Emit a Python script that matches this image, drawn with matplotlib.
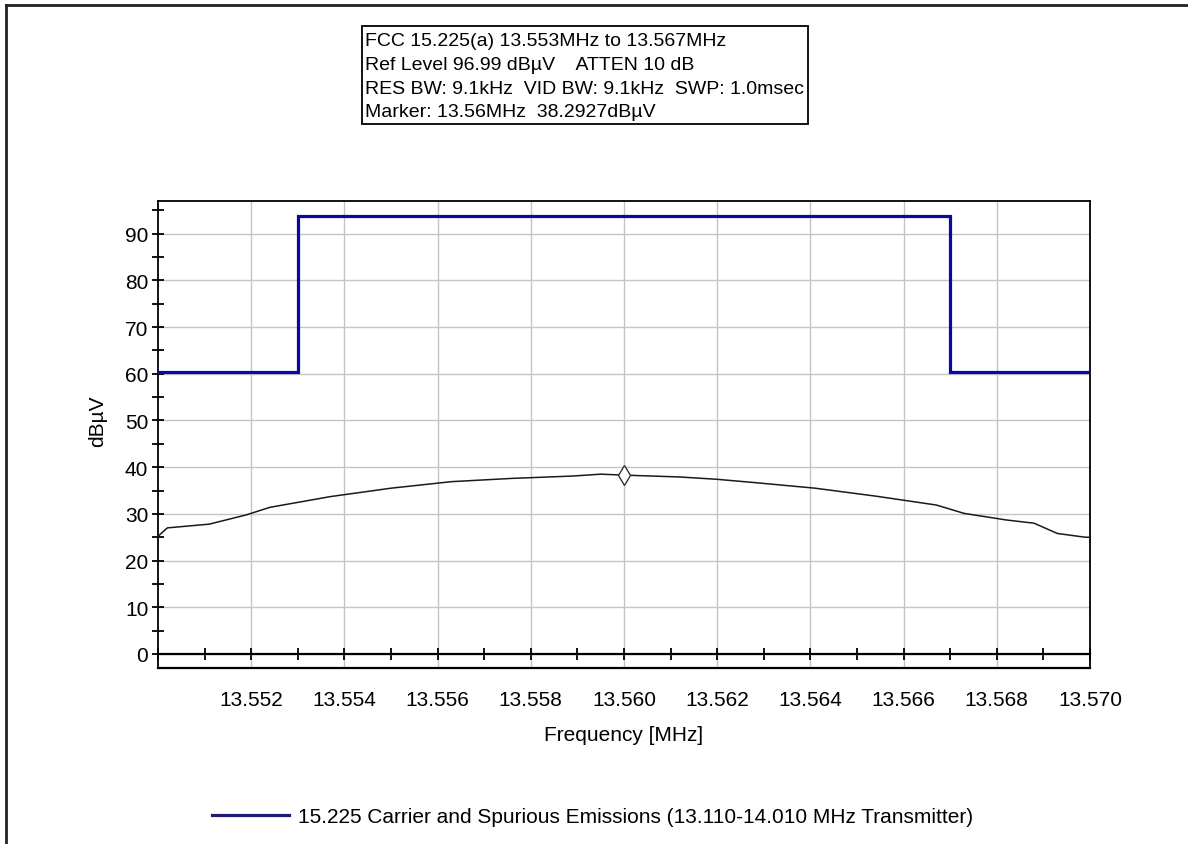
import matplotlib
matplotlib.use("Agg")
import matplotlib.pyplot as plt
from matplotlib.lines import Line2D
from matplotlib.patches import Rectangle
from matplotlib.ticker import MultipleLocator

plt.rcParams['font.family'] = ['Liberation Sans', 'DejaVu Sans']

# ---- data ----
limit_freq = [13.550, 13.553, 13.553, 13.567, 13.567, 13.570]
limit_level = [60.3, 60.3, 93.7, 93.7, 60.3, 60.3]

em_freq = [13.5500, 13.5502, 13.5511, 13.5519, 13.5524, 13.5537, 13.5550, 13.5563,
           13.5576, 13.5589, 13.5595, 13.5600, 13.5612, 13.5620, 13.5628, 13.5641,
           13.5654, 13.5667, 13.5673, 13.5682, 13.5688, 13.5693, 13.5699, 13.5700]
em_level = [25.2, 27.0, 27.8, 29.8, 31.4, 33.7, 35.5, 36.9,
            37.6, 38.1, 38.5, 38.3, 37.9, 37.4, 36.7, 35.5,
            33.8, 31.9, 30.1, 28.7, 28.0, 25.8, 25.0, 25.0]

marker_freq = 13.560
marker_level = 38.2927

info_lines = [
    "FCC 15.225(a) 13.553MHz to 13.567MHz",
    "Ref Level 96.99 dB\u00b5V    ATTEN 10 dB",
    "RES BW: 9.1kHz  VID BW: 9.1kHz  SWP: 1.0msec",
    "Marker: 13.56MHz  38.2927dB\u00b5V",
]
legend_label = "15.225 Carrier and Spurious Emissions (13.110-14.010 MHz Transmitter)"

x_range = (13.550, 13.570)
y_range = (-3, 96.99)

# ---- figure ----
W, H = 1188, 845
fig = plt.figure(figsize=(W / 100, H / 100), dpi=100)
ax = fig.add_axes([158 / W, 1 - 669 / H, (1090 - 158) / W, (669 - 202) / H])

ax.plot(limit_freq, limit_level, color='#0808a8', lw=2.3, solid_joinstyle='miter',
        label=legend_label, zorder=3)
ax.plot(em_freq, em_level, color='#1a1a1a', lw=1.1, zorder=3)
ax.plot([marker_freq], [marker_level], marker='d', ms=10, mfc='white', mec='#333333',
        mew=1.0, ls='none', zorder=4)

ax.set_xlim(*x_range)
ax.set_ylim(*y_range)

ax.xaxis.set_major_locator(MultipleLocator(0.002))
ax.xaxis.set_minor_locator(MultipleLocator(0.001))
ax.yaxis.set_major_locator(MultipleLocator(10))
ax.yaxis.set_minor_locator(MultipleLocator(5))

xt = [t for t in ax.get_xticks() if x_range[0] + 1e-6 < t <= x_range[1] + 1e-6]
ax.set_xticks(xt)
ax.set_xticklabels([f"{t:.3f}" for t in xt])

ax.grid(True, which='major', color='#c4c4c4', lw=1.0)
ax.set_axisbelow(True)

# x axis sits on the 0 dB line, box bottom drawn separately
ax.spines['bottom'].set_position(('data', 0))
ax.spines['bottom'].set_linewidth(1.6)
for s in ['left', 'top', 'right']:
    ax.spines[s].set_linewidth(1.3)
ax.plot([0, 1], [0, 0], transform=ax.transAxes, color='k', lw=1.6, clip_on=False)

ax.tick_params(which='both', direction='inout', length=8, width=1.3, colors='k',
               labelsize=15)
ax.tick_params(axis='x', which='both', pad=22)
ax.tick_params(axis='y', which='both', pad=3)

ax.set_xlabel("Frequency [MHz]", fontsize=15)
ax.xaxis.set_label_coords(0.5, -0.123)
ax.set_ylabel("dB\u00b5V", fontsize=15)
ax.yaxis.set_label_coords(-0.055, 0.53)

# info box
fig.patches.append(Rectangle((362 / W, 1 - 125 / H), (808 - 362) / W, (125 - 27) / H,
                             transform=fig.transFigure, fill=False, ec='k', lw=1.3))
for i, line in enumerate(info_lines):
    fig.text(365 / W, 1 - (42 + i * 23.5) / H, line, fontsize=14, va='center', ha='left')

# legend under the plot
leg = fig.legend(loc='center left', bbox_to_anchor=(212 / W, 1 - 818 / H), frameon=False,
                 fontsize=15, handlelength=3.7, handletextpad=0.45, borderpad=0,
                 borderaxespad=0)
for h in leg.get_lines():
    h.set_color('#1c1c78')

# window border (top and left edges)
fig.add_artist(Line2D([6 / W, 6 / W], [0, 1 - 6 / H], transform=fig.transFigure,
                      color='#222222', lw=2))
fig.add_artist(Line2D([6 / W, 1], [1 - 6 / H, 1 - 6 / H], transform=fig.transFigure,
                      color='#222222', lw=2))

fig.savefig("out.png", dpi=100)
